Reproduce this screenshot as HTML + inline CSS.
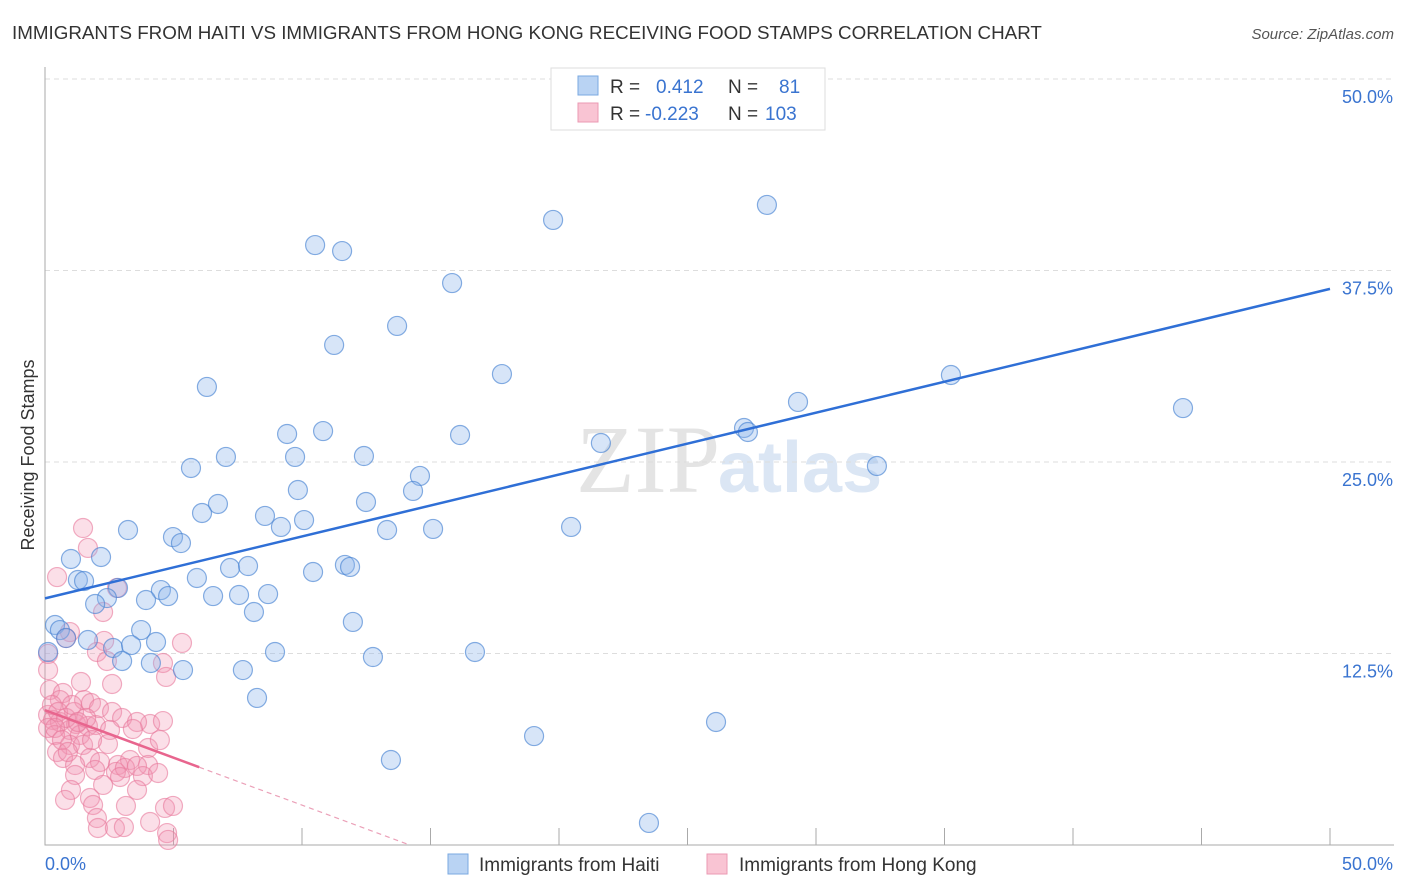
<!DOCTYPE html>
<html><head><meta charset="utf-8"><style>
body{margin:0;background:#fff;font-family:"Liberation Sans",sans-serif;}
svg{display:block}
</style></head><body>
<svg width="1406" height="892" id="chart">
<text x="12" y="39" font-size="18.8" fill="#333">IMMIGRANTS FROM HAITI VS IMMIGRANTS FROM HONG KONG RECEIVING FOOD STAMPS CORRELATION CHART</text>
<text x="1394" y="39" font-size="15" fill="#555" font-style="italic" text-anchor="end">Source: ZipAtlas.com</text>
<text x="720" y="492" font-size="96" fill="#e4e4e4" text-anchor="end" font-family="Liberation Serif">ZIP</text>
<text x="718" y="492" font-size="72" fill="#dbe6f4" font-weight="bold">atlas</text>
<g id="grid"></g>
<g id="marks"></g>
<text transform="translate(34,455) rotate(-90)" font-size="18" fill="#333" text-anchor="middle">Receiving Food Stamps</text>
<g>
<rect x="551" y="68" width="274" height="62" fill="#fff" stroke="#ddd"/>
<rect x="578" y="76" width="20" height="19" fill="#b9d3f3" stroke="#7aa8e0"/>
<rect x="578" y="103" width="20" height="19" fill="#f9c4d3" stroke="#eb9ab3"/>
<text x="610" y="93" font-size="19" fill="#333"><tspan>R = </tspan><tspan x="656" fill="#3a74d0">0.412</tspan><tspan x="728">N = </tspan><tspan x="779" fill="#3a74d0">81</tspan></text>
<text x="610" y="120" font-size="19" fill="#333"><tspan>R = </tspan><tspan x="645" fill="#3a74d0">-0.223</tspan><tspan x="728">N = </tspan><tspan x="765" fill="#3a74d0">103</tspan></text>
</g>
<g>
<rect x="448" y="854" width="20" height="20" fill="#b9d3f3" stroke="#7aa8e0"/>
<text x="479" y="871" font-size="19" fill="#333">Immigrants from Haiti</text>
<rect x="707" y="854" width="20" height="20" fill="#f9c4d3" stroke="#eb9ab3"/>
<text x="739" y="871" font-size="19" fill="#333">Immigrants from Hong Kong</text>
</g>
</svg>
<script>
const yTicks=[12.5,25,37.5,50];
const yTickLabels=["12.5%","25.0%","37.5%","50.0%"];
const xTicks=[0,5,10,15,20,25,30,35,40,45,50];
const haitiPx=[[569,99],[767,205],[553,220],[315,245],[342,251],[452,283],[397,326],[334,345],[502,374],[951,375],[207,387],[798,402],[1183,408],[287,434],[323,431],[460,435],[744,428],[748,432],[601,443],[226,457],[295,457],[364,456],[877,466],[191,468],[420,476],[298,490],[413,491],[218,504],[366,502],[202,513],[265,516],[304,520],[281,527],[128,530],[387,530],[433,529],[571,527],[173,537],[181,543],[71,559],[101,557],[230,568],[248,566],[313,572],[345,565],[350,567],[78,580],[84,581],[197,578],[118,588],[161,590],[168,596],[213,596],[239,595],[268,594],[107,598],[146,600],[95,604],[254,612],[353,622],[55,625],[60,630],[141,630],[66,638],[88,640],[156,642],[113,648],[275,652],[131,645],[48,652],[373,657],[475,652],[122,661],[151,663],[183,670],[243,670],[257,698],[716,722],[534,736],[391,760],[649,823]];
const hkPx=[[83,528],[88,548],[57,577],[117,588],[70,632],[103,612],[66,638],[104,641],[182,643],[97,652],[48,654],[107,661],[163,663],[166,677],[48,670],[81,682],[112,684],[50,690],[63,693],[84,700],[60,700],[91,703],[99,708],[74,712],[112,712],[48,715],[53,720],[60,722],[76,724],[88,726],[70,730],[96,725],[122,718],[150,724],[137,722],[163,721],[48,728],[55,735],[80,735],[110,730],[133,729],[70,745],[57,752],[83,745],[108,744],[148,748],[160,740],[63,758],[90,758],[75,765],[100,762],[118,765],[130,760],[148,765],[75,775],[95,770],[116,772],[125,768],[137,766],[143,776],[103,785],[120,777],[158,773],[71,790],[90,798],[137,790],[65,800],[93,805],[126,806],[165,808],[173,806],[97,818],[98,828],[115,828],[124,827],[167,833],[168,840],[150,822],[52,705],[58,712],[66,718],[55,728],[62,740],[72,705],[86,718],[68,752],[92,740],[78,722]];
const haitiX=haitiPx.map(p=>+((p[0]-45)/25.7).toFixed(2));
const haitiY=haitiPx.map(p=>+((845-p[1])/15.32).toFixed(2));
const hkX=hkPx.map(p=>+((p[0]-45)/25.7).toFixed(2));
const hkY=hkPx.map(p=>+((845-p[1])/15.32).toFixed(2));
const haitiTrend=[16.1,0.404];
const hkTrend=[8.8,-0.62];
const hkSolidEnd=6;

const X0=45,X1=1330,Y0=845,Y1=79;
const sx=v=>X0+(X1-X0)*v/50, sy=v=>Y0-(Y0-Y1)*v/50;
const NS="http://www.w3.org/2000/svg";
function mk(t,a,parent){const e=document.createElementNS(NS,t);for(const k in a)e.setAttribute(k,a[k]);parent.appendChild(e);return e;}
const grid=document.getElementById('grid'),marks=document.getElementById('marks');
yTicks.forEach((t,i)=>{
 const l=mk('line',{x1:X0,x2:1394,y1:sy(t),y2:sy(t),stroke:'#ddd','stroke-dasharray':'5,4'},grid);
 
 
 const tx=mk('text',{x:1393,y:sy(t)+24,'font-size':18,fill:'#3a74d0','text-anchor':'end'},grid);
 tx.textContent=yTickLabels[i];
 
 
});
xTicks.forEach(t=>{
 if(t===0)return;
 const l=mk('line',{x1:sx(t),x2:sx(t),y1:Y0,y2:Y0-17,stroke:'#aaa'},grid);
 
 
});
const ax=mk('path',{d:`M${X0},${Y1-12}V${Y0}H1394`,stroke:'#aaa',fill:'none'},grid);


const xl0=mk('text',{x:45,y:870,'font-size':18,fill:'#3a74d0'},grid);xl0.textContent='0.0%';


const xl1=mk('text',{x:1393,y:870,'font-size':18,fill:'#3a74d0','text-anchor':'end'},grid);xl1.textContent='50.0%';



hkX.forEach((x,i)=>{
 const c=mk('circle',{cx:sx(x),cy:sy(hkY[i]),r:9.5,fill:'rgba(242,150,180,0.3)',stroke:'rgba(232,120,155,0.6)','stroke-width':1.2},marks);
 
 
});
haitiX.forEach((x,i)=>{
 const c=mk('circle',{cx:sx(x),cy:sy(haitiY[i]),r:9.5,fill:'rgba(140,180,235,0.35)',stroke:'rgba(70,130,210,0.65)','stroke-width':1.2},marks);
 
 
});
const bl=mk('line',{x1:sx(0),y1:sy(haitiTrend[0]),x2:sx(50),y2:sy(haitiTrend[0]+50*haitiTrend[1]),stroke:'#2f6fd6','stroke-width':2.5},marks);


const pl=mk('line',{x1:sx(0),y1:sy(hkTrend[0]),x2:sx(hkSolidEnd),y2:sy(hkTrend[0]+hkSolidEnd*hkTrend[1]),stroke:'#e8658e','stroke-width':2.5},marks);


const xe=-hkTrend[0]/hkTrend[1];
const pd=mk('line',{x1:sx(hkSolidEnd),y1:sy(hkTrend[0]+hkSolidEnd*hkTrend[1]),x2:sx(xe),y2:sy(0),stroke:'#eba0b8','stroke-width':1.2,'stroke-dasharray':'5,4'},marks);


</script>
</body></html>
